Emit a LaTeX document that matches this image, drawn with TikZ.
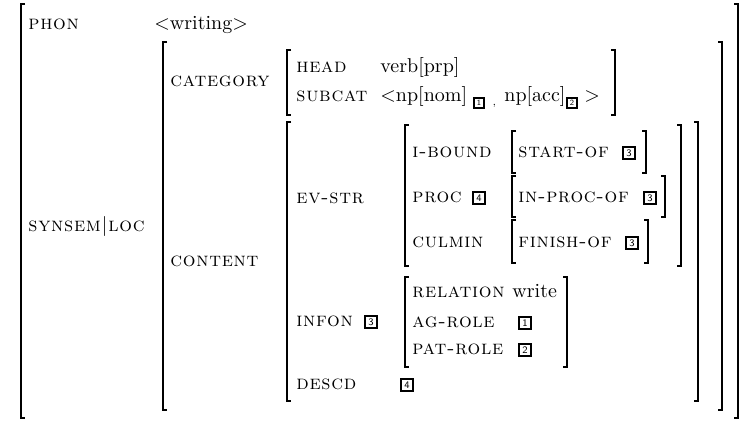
\documentclass[tikz,border=0pt]{standalone}
\usepackage{fontspec}
\usetikzlibrary{positioning}
\newfontfamily\attrfont{lmromancaps10-regular.otf}[LetterSpace=3.5]
\tikzset{
    attr/.style = {inner sep=0pt, anchor=mid west, font=\attrfont},
    val/.style = {inner sep=0pt, anchor=mid west},
    tag/.style = {draw=black, line width=1pt, inner sep=0pt, minimum size=6.4pt,
        font=\sffamily\fontsize{5}{5}\selectfont},
    subtag/.style = {tag, minimum size=5pt, font=\sffamily\fontsize{4}{4}\selectfont},
    brack/.style = {line width=0.6pt},
}
% left and right bracket of one matrix: {left}{right}{top}{bottom}
\newcommand{\avmbrackets}[4]{%
    \draw[brack] (#1,#3) ++(4,0) -- ++(-4,0) -- (#1,#4) -- ++(4,0);
    \draw[brack] (#2,#3) ++(-4,0) -- ++(4,0) -- (#2,#4) -- ++(-4,0);
}

\begin{document}
\begin{tikzpicture}[x=0.5pt, y=-0.5pt]
            \useasboundingbox (0,0) rectangle (747,421);
            % brackets, outermost first
            \avmbrackets{21}{738}{4}{418}
            \avmbrackets{163}{722}{42}{410}
            \avmbrackets{287}{615}{50}{115}
            \avmbrackets{287}{698}{122}{401}
            \avmbrackets{405}{681}{125}{266}
            \avmbrackets{512}{646}{131}{173}
            \avmbrackets{512}{665}{176}{217}
            \avmbrackets{512}{648}{220}{263}
            \avmbrackets{405}{567}{277}{367}
            % top level
            \node (phon) [attr] at (28,25) {phon};
            \node (word) [val] at (154,25) {$<$writing$>$};
            \node (synloc) [attr] at (28,227) {synsem\hspace{0.5pt}$\vert$\hspace{0.5pt}loc};
            % category
            \node (cat) [attr] at (170,82) {category};
            \node (head) [attr] at (296,68) {head};
            \node (verb) [val] at (380,68) {verb[prp]};
            \node (subcat) [attr] at (296,97) {subcat};
            \node (npnom) [val] at (380,97) {$<$np[nom]};
            \node (t1a) [subtag] at (479,103) {1};
            \node (comma) [val, font=\tiny] at (492,101) {,};
            \node (npacc) [val] at (504,97) {np[acc]};
            \node (t2a) [subtag] at (572,103) {2};
            \node (close) [val] at (584,97) {$>$};
            % content
            \node (cont) [attr] at (170,262) {content};
            \node (evstr) [attr] at (296,199) {ev-str};
            \node (ibound) [attr] at (412,153) {i-bound};
            \node (start) [attr] at (518,153) {start-of};
            \node (t3a) [tag] at (629,153) {3};
            \node (proc) [attr] at (412,198) {proc};
            \node (t4a) [tag] at (479,198) {4};
            \node (inproc) [attr] at (518,198) {in-proc-of};
            \node (t3b) [tag] at (650,198) {3};
            \node (culmin) [attr] at (412,243) {culmin};
            \node (finish) [attr] at (518,243) {finish-of};
            \node (t3c) [tag] at (632,243) {3};
            \node (infon) [attr] at (296,322) {infon};
            \node (t3d) [tag] at (371,322) {3};
            \node (rel) [attr] at (412,293) {relation};
            \node (write) [val] at (512,293) {write};
            \node (agrole) [attr] at (412,323) {ag-role};
            \node (t1b) [tag] at (525,323) {1};
            \node (patrole) [attr] at (412,350) {pat-role};
            \node (t2b) [tag] at (525,350) {2};
            \node (descd) [attr] at (296,385) {descd};
            \node (t4b) [tag] at (407,385) {4};
\end{tikzpicture}
\end{document}
